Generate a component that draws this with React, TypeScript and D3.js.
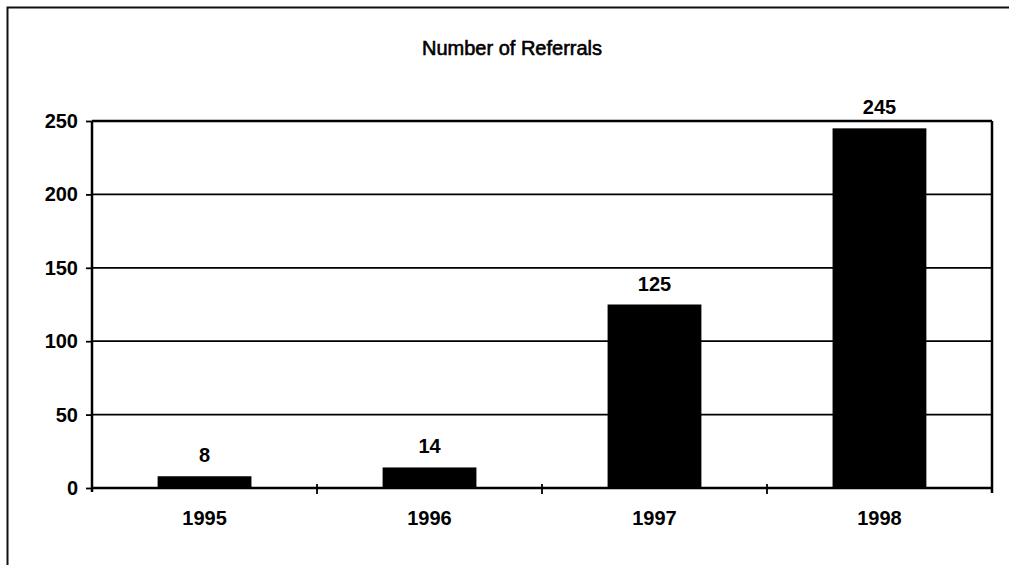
import React, { useEffect, useRef } from 'react';
import * as d3 from 'd3';

const WIDTH = 1009;
const HEIGHT = 565;
const MARGIN = { top: 121, right: 17, bottom: 77, left: 92 };

const years = ['1995', '1996', '1997', '1998'];
const referrals = [8, 14, 125, 245];
const yTicks = [0, 50, 100, 150, 200, 250];

const FONT = '"Liberation Sans", Arial, sans-serif';

export default function App() {
  const ref = useRef<SVGSVGElement>(null);

  useEffect(() => {
    if (!ref.current) return;
    const svg = d3.select(ref.current);
    svg.selectAll('*').remove();

    const x0 = MARGIN.left;
    const x1 = WIDTH - MARGIN.right;
    const y0 = HEIGHT - MARGIN.bottom;
    const y1 = MARGIN.top;

    const xScale = d3
      .scaleBand()
      .domain(years)
      .range([x0, x1])
      .paddingInner(0.583)
      .paddingOuter(0.2917);

    const yScale = d3.scaleLinear().domain([0, 250]).range([y0, y1]);

    // outer frame (left + top only, as in the scan)
    svg
      .append('path')
      .attr('d', `M7.5,${HEIGHT} L7.5,7.5 L${WIDTH},7.5`)
      .attr('fill', 'none')
      .attr('stroke', '#111')
      .attr('stroke-width', 2);

    // title
    svg
      .append('text')
      .attr('x', 512)
      .attr('y', 55)
      .attr('text-anchor', 'middle')
      .style('font-family', FONT)
      .style('font-size', '20px')
      .style('fill', '#000')
      .style('stroke', '#000')
      .style('stroke-width', '0.6px')
      .text('Number of Referrals');

    // gridlines
    svg
      .append('g')
      .selectAll('line')
      .data(yTicks.filter((d) => d > 0))
      .enter()
      .append('line')
      .attr('x1', x0)
      .attr('x2', x1)
      .attr('y1', (d) => yScale(d))
      .attr('y2', (d) => yScale(d))
      .attr('stroke', '#000')
      .attr('stroke-width', (d) => (d === 250 ? 2.5 : 1.8));

    // right border of plot area
    svg
      .append('line')
      .attr('x1', x1)
      .attr('x2', x1)
      .attr('y1', y1)
      .attr('y2', y0 + 5)
      .attr('stroke', '#000')
      .attr('stroke-width', 2.5);

    // bars
    svg
      .append('g')
      .selectAll('rect')
      .data(referrals)
      .enter()
      .append('rect')
      .attr('x', (_, i) => xScale(years[i])!)
      .attr('y', (d) => yScale(d))
      .attr('width', xScale.bandwidth())
      .attr('height', (d) => y0 - yScale(d))
      .attr('fill', '#000');

    // value labels
    svg
      .append('g')
      .selectAll('text')
      .data(referrals)
      .enter()
      .append('text')
      .attr('x', (_, i) => xScale(years[i])! + xScale.bandwidth() / 2)
      .attr('y', (d) => yScale(d) - 14)
      .attr('text-anchor', 'middle')
      .style('font-family', FONT)
      .style('font-size', '20px')
      .style('font-weight', 'bold')
      .style('fill', '#000')
      .text((d) => String(d));

    // y axis
    const yAxis = d3
      .axisLeft(yScale)
      .tickValues(yTicks)
      .tickSize(6)
      .tickPadding(8)
      .tickFormat((d) => String(d));

    const gy = svg.append('g').attr('transform', `translate(${x0},0)`).call(yAxis);
    gy.select('.domain').attr('stroke', '#000').attr('stroke-width', 2.5).attr('d', `M0,${y1}V${y0 + 4}`);
    gy.selectAll('.tick line').attr('stroke', '#000').attr('stroke-width', 1.8);
    gy.selectAll('.tick text')
      .style('font-family', FONT)
      .style('font-size', '20px')
      .style('font-weight', 'bold')
      .attr('fill', '#000');

    // x axis: line, boundary ticks, labels
    const gx = svg.append('g').attr('transform', `translate(0,${y0})`);
    gx.append('line')
      .attr('x1', x0)
      .attr('x2', x1)
      .attr('stroke', '#000')
      .attr('stroke-width', 2.5);

    const step = xScale.step();
    const boundaries = years.slice(1).map((d) => xScale(d)! - (step - xScale.bandwidth()) / 2);
    gx.selectAll('line.tk')
      .data(boundaries)
      .enter()
      .append('line')
      .attr('class', 'tk')
      .attr('x1', (d) => d)
      .attr('x2', (d) => d)
      .attr('y1', -4)
      .attr('y2', 6)
      .attr('stroke', '#000')
      .attr('stroke-width', 1.8);

    gx.selectAll('text')
      .data(years)
      .enter()
      .append('text')
      .attr('x', (d) => xScale(d)! + xScale.bandwidth() / 2)
      .attr('y', 37)
      .attr('text-anchor', 'middle')
      .style('font-family', FONT)
      .style('font-size', '20px')
      .style('font-weight', 'bold')
      .style('fill', '#000')
      .text((d) => d);
  }, []);

  return (
    <svg
      ref={ref}
      width={WIDTH}
      height={HEIGHT}
      style={{ position: 'absolute', left: 0, top: 0, background: '#fff' }}
    />
  );
}
